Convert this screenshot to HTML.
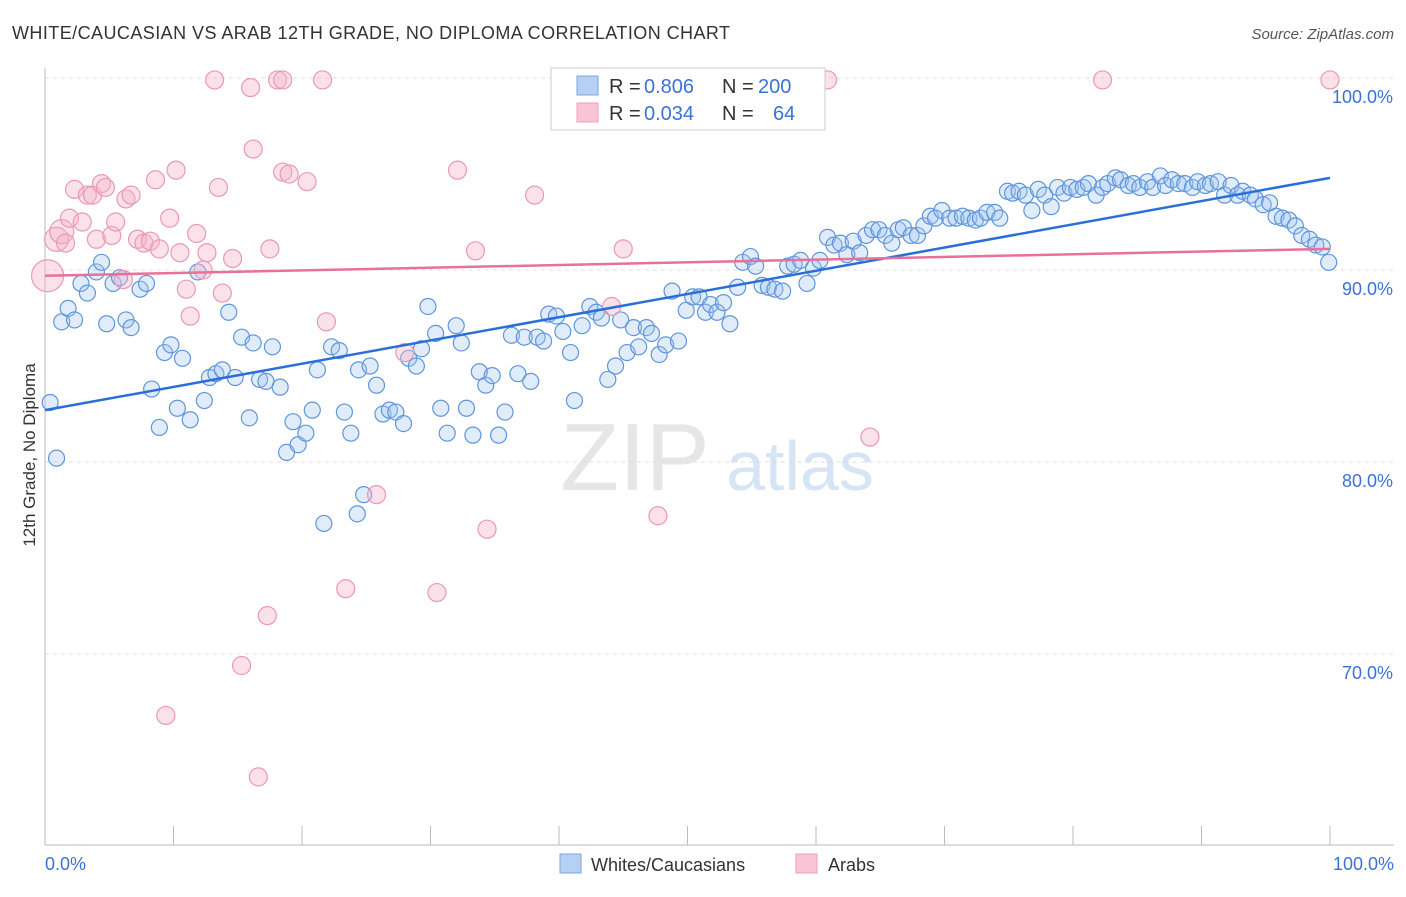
<!DOCTYPE html>
<html><head><meta charset="utf-8"><style>
body{margin:0;background:#fff;font-family:"Liberation Sans",sans-serif;}
svg text{font-family:"Liberation Sans",sans-serif;}
</style></head><body>
<svg id="chart" width="1406" height="892" xmlns="http://www.w3.org/2000/svg">
<text x="12" y="39" font-size="18" fill="#333" textLength="718" lengthAdjust="spacing">WHITE/CAUCASIAN VS ARAB 12TH GRADE, NO DIPLOMA CORRELATION CHART</text>
<text x="1394" y="39" font-size="15" fill="#555" font-style="italic" text-anchor="end">Source: ZipAtlas.com</text>
<text x="35" y="455" font-size="17" fill="#333" text-anchor="middle" transform="rotate(-90 35 455)">12th Grade, No Diploma</text>
<g><text x="635" y="490" font-size="96" fill="#e6e6e6" font-family="Liberation Serif" text-anchor="middle">ZIP</text><text x="800" y="490" font-size="70" fill="#d6e4f5" text-anchor="middle">atlas</text></g>
<g id="grid"></g><g id="axes"></g><g id="pts"></g><g id="lines"></g>
<g>
<rect x="551" y="68" width="274" height="62" fill="#fff" stroke="#ccc"/>
<rect x="577" y="76" width="21" height="19" fill="#b5d0f3" stroke="#7aa6e3"/>
<rect x="577" y="103" width="21" height="19" fill="#f9c5d4" stroke="#eda0b8"/>
<text y="93" font-size="20" fill="#333"><tspan x="609">R = </tspan><tspan x="644" fill="#3a72d8">0.806</tspan><tspan x="722">N = </tspan><tspan x="758" fill="#3a72d8">200</tspan></text>
<text y="120" font-size="20" fill="#333"><tspan x="609">R = </tspan><tspan x="644" fill="#3a72d8">0.034</tspan><tspan x="722">N = </tspan><tspan x="773" fill="#3a72d8">64</tspan></text>
</g>
<g>
<rect x="560" y="854" width="21" height="19" fill="#b5d0f3" stroke="#7aa6e3"/>
<text x="591" y="871" font-size="18" fill="#333">Whites/Caucasians</text>
<rect x="796" y="854" width="21" height="19" fill="#f9c5d4" stroke="#eda0b8"/>
<text x="828" y="871" font-size="18" fill="#333">Arabs</text>
</g>
</svg>
<script>
const yTicks=[70,80,90,100];
const yTickLabels=["70.0%","80.0%","90.0%","100.0%"];
const xTickLabels=["0.0%","100.0%"];
const blueX=[0.4,0.9,1.3,1.8,2.3,2.8,3.3,4.0,4.4,4.8,5.3,5.8,6.3,6.7,7.4,7.9,8.3,8.9,9.3,9.8,10.3,10.7,11.3,11.9,12.4,12.8,13.3,13.8,14.3,14.8,15.3,15.9,16.2,16.7,17.2,17.7,18.3,18.8,19.3,19.7,20.3,20.8,21.2,21.7,22.3,22.9,23.3,23.8,24.4,24.8,24.3,25.3,25.8,26.3,26.8,27.3,27.9,28.3,28.9,29.3,29.8,30.4,30.8,31.3,32.0,32.4,32.8,33.3,33.8,34.3,34.8,35.3,35.8,36.3,36.8,37.3,37.8,38.3,38.8,39.2,39.8,40.3,40.9,41.2,41.8,42.4,42.9,43.3,43.8,44.4,44.8,45.3,45.8,46.2,46.8,47.2,47.8,48.3,48.8,49.3,49.9,50.4,50.9,51.4,51.8,52.3,52.8,53.3,53.9,54.3,54.9,55.3,55.8,56.3,56.8,57.4,57.8,58.3,58.8,59.3,59.8,60.3,60.9,61.4,61.9,62.4,62.9,63.4,63.9,64.4,64.9,65.4,65.9,66.4,66.8,67.4,67.9,68.4,68.9,69.3,69.8,70.4,70.9,71.4,71.9,72.4,72.8,73.3,73.9,74.3,74.9,75.3,75.8,76.3,76.8,77.3,77.8,78.3,78.8,79.3,79.8,80.3,80.8,81.2,81.8,82.3,82.7,83.3,83.7,84.3,84.7,85.2,85.8,86.2,86.8,87.2,87.7,88.2,88.7,89.3,89.7,90.3,90.7,91.3,91.8,92.3,92.8,93.2,93.8,94.2,94.8,95.3,95.8,96.3,96.8,97.3,97.8,98.4,98.9,99.4,99.9];
const blueY=[83.1,80.2,87.3,88.0,87.4,89.3,88.8,89.9,90.4,87.2,89.3,89.6,87.4,87.0,89.0,89.3,83.8,81.8,85.7,86.1,82.8,85.4,82.2,89.9,83.2,84.4,84.6,84.8,87.8,84.4,86.5,82.3,86.2,84.3,84.2,86.0,83.9,80.5,82.1,80.9,81.5,82.7,84.8,76.8,86.0,85.8,82.6,81.5,84.8,78.3,77.3,85.0,84.0,82.5,82.7,82.6,82.0,85.4,85.0,85.9,88.1,86.7,82.8,81.5,87.1,86.2,82.8,81.4,84.7,84.0,84.5,81.4,82.6,86.6,84.6,86.5,84.2,86.5,86.3,87.7,87.6,86.8,85.7,83.2,87.1,88.1,87.8,87.5,84.3,85.0,87.4,85.7,87.0,86.0,87.0,86.7,85.6,86.1,88.9,86.3,87.9,88.6,88.6,87.8,88.2,87.8,88.3,87.2,89.1,90.4,90.7,90.2,89.2,89.1,89.0,88.9,90.2,90.3,90.5,89.3,90.1,90.5,91.7,91.3,91.4,90.8,91.5,90.9,91.8,92.1,92.1,91.8,91.4,92.1,92.2,91.8,91.8,92.3,92.8,92.7,93.1,92.7,92.7,92.8,92.7,92.6,92.7,93.0,93.0,92.7,94.1,94.0,94.1,93.9,93.1,94.2,93.9,93.3,94.3,94.0,94.3,94.2,94.3,94.5,93.9,94.3,94.5,94.8,94.7,94.4,94.5,94.3,94.6,94.3,94.9,94.4,94.7,94.5,94.5,94.3,94.6,94.4,94.5,94.6,93.9,94.4,93.9,94.1,93.9,93.7,93.4,93.5,92.8,92.7,92.6,92.3,91.8,91.6,91.3,91.2,90.4];
const pinkX=[0.2,0.9,1.3,1.6,1.9,2.3,2.9,3.3,3.7,4.0,4.4,4.7,5.2,5.5,6.1,6.3,6.7,7.2,7.7,8.2,8.6,8.9,9.4,9.7,10.2,10.5,11.0,11.3,11.8,12.3,12.6,13.2,13.5,13.8,14.6,15.3,16.0,16.2,16.6,17.3,17.5,18.1,18.5,18.5,19.0,20.4,21.6,21.9,23.4,25.8,28.0,30.5,32.1,33.5,34.4,38.1,44.1,45.0,47.7,60.9,64.2,82.3,100];
const pinkY=[89.7,91.6,92.0,91.4,92.7,94.2,92.5,93.9,93.9,91.6,94.5,94.3,91.8,92.5,89.5,93.7,93.9,91.6,91.4,91.5,94.7,91.1,66.8,92.7,95.2,90.9,89.0,87.6,91.9,90.0,90.9,99.9,94.3,88.8,90.6,69.4,99.5,96.3,63.6,72.0,91.1,99.9,99.9,95.1,95.0,94.6,99.9,87.3,73.4,78.3,85.7,73.2,95.2,91.0,76.5,93.9,88.1,91.1,77.2,99.9,81.3,99.9,99.9];
const pinkR=[16,12,12,9,9,9,9,9,9,9,9,9,9,9,9,9,9,9,9,9,9,9,9,9,9,9,9,9,9,9,9,9,9,9,9,9,9,9,9,9,9,9,9,9,9,9,9,9,9,9,9,9,9,9,9,9,9,9,9,9,9,9,9];
const blueLine=[82.7,94.8];
const pinkLine=[89.7,91.1];
const NS="http://www.w3.org/2000/svg";
const X=v=>45+v*12.85;
const Y=v=>78+(100-v)*19.2;
function mk(tag,attrs,parent){const e=document.createElementNS(NS,tag);for(const k in attrs)e.setAttribute(k,attrs[k]);document.getElementById(parent).appendChild(e);return e;}
yTicks.forEach((t,i)=>{
 const l=mk('line',{x1:45,x2:1394,y1:Y(t),y2:Y(t),stroke:'#ddd','stroke-dasharray':'4,4'},'grid');
 
 
 const tx=mk('text',{x:1393,y:Y(t)+25,'font-size':18,fill:'#3a72d8','text-anchor':'end'},'axes');
 tx.textContent=yTickLabels[i];
 
 
});
mk('line',{x1:45,x2:45,y1:68,y2:845,stroke:'#bbb'},'axes');
mk('line',{x1:45,x2:1394,y1:845,y2:845,stroke:'#bbb'},'axes');
for(let i=1;i<=10;i++){const t=mk('line',{x1:X(i*10),x2:X(i*10),y1:826,y2:845,stroke:'#bbb'},'axes');}
[[0,'start',45],[100,'end',1394]].forEach((a,i)=>{const tx=mk('text',{x:a[2],y:870,'font-size':18,fill:'#3a72d8','text-anchor':a[1]},'axes');tx.textContent=xTickLabels[i];});
blueX.forEach((x,i)=>{const c=mk('circle',{cx:X(x),cy:Y(blueY[i]),r:8,fill:'rgba(160,196,240,0.32)',stroke:'#5f95dc','stroke-width':1.2},'pts');
 
 });
pinkX.forEach((x,i)=>{const c=mk('circle',{cx:X(x),cy:Y(pinkY[i]),r:pinkR[i],fill:'rgba(246,180,200,0.4)',stroke:'#eb98b3','stroke-width':1.2},'pts');
 
 });
const bl=mk('line',{x1:X(0),y1:Y(blueLine[0]),x2:X(100),y2:Y(blueLine[1]),stroke:'#2a6fd6','stroke-width':2.5},'lines');


const pl=mk('line',{x1:X(0),y1:Y(pinkLine[0]),x2:X(100),y2:Y(pinkLine[1]),stroke:'#e8709a','stroke-width':2.5},'lines');


</script>
</body></html>
